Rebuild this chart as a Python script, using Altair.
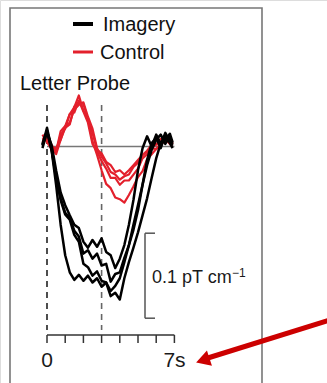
import altair as alt
import pandas as pd

# ---- data (time in s, amplitude in fT/cm) ----
times = [-0.25, 0, 0.25, 0.5, 0.75, 1, 1.25, 1.5, 1.75, 2, 2.25, 2.5, 2.75, 3, 3.25,
         3.5, 3.75, 4, 4.25, 4.5, 4.75, 5, 5.25, 5.5, 5.75, 6, 6.25, 6.5, 6.75, 6.9]

imagery_1 = [2, 19, -4, -45, -92, -128, -148, -157, -151, -158, -152, -160, -155, -165, -160,
             -170, -164, -155, -136, -116, -92, -69, -45, -22, -4, 8, 14, 3, 12, 3]
imagery_2 = [-2, 17, 2, -28, -54, -69, -81, -92, -96, -112, -119, -110, -118, -108, -124,
             -128, -143, -132, -116, -92, -63, -28, -2, 12, 0, 14, 3, 16, 6, 1]
imagery_3 = [1, 22, -2, -34, -61, -78, -84, -99, -106, -126, -122, -132, -126, -140, -138,
             -159, -150, -148, -131, -116, -98, -75, -45, -16, 4, 10, -2, 14, 4, -2]
imagery_4 = [3, 18, -4, -37, -63, -80, -86, -104, -112, -138, -142, -152, -147, -158, -160,
             -176, -172, -180, -155, -136, -119, -101, -81, -61, -37, -14, 4, 8, 15, 5]

control_1 = [14, 5, -2, -9, 8, 22, 26, 47, 52, 50, 32, 16, -4, -8, -18,
             -22, -30, -28, -33, -28, -22, -16, -10, -6, -2, -3, 4, 5, 8, 4]
control_2 = [8, 12, 2, -6, 14, 21, 38, 46, 60, 42, 33, 6, -10, -28, -44,
             -49, -60, -62, -66, -57, -47, -36, -29, -15, -9, -3, 2, 9, 3, 1]
control_3 = [10, 8, -4, -6, 18, 24, 38, 40, 54, 41, 28, 3, -6, -17, -26,
             -37, -37, -45, -40, -40, -33, -26, -14, -9, 0, 2, 9, 10, 4, 2]
control_4 = [5, 14, -1, -2, 8, 24, 28, 44, 49, 52, 35, 21, -2, -12, -20,
             -30, -33, -39, -35, -33, -24, -19, -10, -5, 2, 3, 5, 7, 10, 3]

legend_labels = ["Imagery", "Control"]
legend_colors = ["#000000", "#e3202c"]
probe_title = "Letter Probe"
event_times = [0, 3]
tick_times = [0, 1, 2, 3, 4, 5, 6, 7]
tick_labels = ["0", "7s"]
scalebar_top = -102
scalebar_len = 100
scalebar_label = "0.1 pT cm"
scalebar_exp = "\u22121"

FONT = "Liberation Sans"

rows = []
for name, group, vals in [
    ("c1", "Control", control_1), ("c2", "Control", control_2),
    ("c3", "Control", control_3), ("c4", "Control", control_4),
    ("i1", "Imagery", imagery_1), ("i2", "Imagery", imagery_2),
    ("i3", "Imagery", imagery_3), ("i4", "Imagery", imagery_4),
]:
    for t, v in zip(times, vals):
        rows.append({"t": t, "v": v, "series": name, "group": group})
df = pd.DataFrame(rows)

xs = alt.Scale(domain=[-47 / 18.2, (327 - 47) / 18.2], nice=False, zero=False)
ys = alt.Scale(domain=[(146.5 - 383) / 0.85, 146.5 / 0.85], nice=False, zero=False)
X = lambda f: alt.X(f, type="quantitative", scale=xs, axis=None)
Y = lambda f: alt.Y(f, type="quantitative", scale=ys, axis=None)

one = pd.DataFrame({"a": [0]})

box = alt.Chart(one).mark_rect(fill=None, stroke="#777777", strokeWidth=1.6).encode(
    x=alt.value(10), x2=alt.value(262), y=alt.value(8), y2=alt.value(400))

baseline = alt.Chart(pd.DataFrame({"t0": [0], "t1": [7], "v": [0]})).mark_rule(
    color="#777777", strokeWidth=1.5).encode(x=X("t0"), x2="t1", y=Y("v"))

ev = pd.DataFrame({"t": event_times, "c": ["#222222", "#666666"]})
dashed = alt.Chart(ev).mark_rule(strokeDash=[6, 5], strokeWidth=1.6).encode(
    x=X("t"), y=alt.value(105), y2=alt.value(330),
    color=alt.Color("c:N", scale=None))

color_scale = alt.Scale(domain=legend_labels, range=legend_colors)

red_lines = alt.Chart(df[df.group == "Control"]).mark_line(
    strokeWidth=2.2, strokeJoin="round").encode(
    x=X("t"), y=Y("v"), detail="series:N",
    color=alt.Color("group:N", scale=color_scale, legend=None))
black_lines = alt.Chart(df[df.group == "Imagery"]).mark_line(
    strokeWidth=2.5, strokeJoin="round").encode(
    x=X("t"), y=Y("v"), detail="series:N",
    color=alt.Color("group:N", scale=color_scale, legend=None))

# legend
leg = pd.DataFrame({"label": legend_labels, "col": legend_colors,
                    "ly": [24, 52], "ty": [31, 59], "tx": [103, 100], "w": [4, 3]})
leg_lines = alt.Chart(leg).mark_rule().encode(
    x=alt.value(73), x2=alt.value(93), y=alt.Y("ly:Q", scale=None),
    color=alt.Color("col:N", scale=None),
    strokeWidth=alt.StrokeWidth("w:Q", scale=None))
leg_text = alt.Chart(leg).mark_text(align="left", baseline="alphabetic", font=FONT,
                                     fontSize=20, color="#111111").encode(
    x=alt.X("tx:Q", scale=None), y=alt.Y("ty:Q", scale=None), text="label:N")

title = alt.Chart(pd.DataFrame({"s": [probe_title]})).mark_text(
    align="left", baseline="alphabetic", font=FONT, fontSize=20, color="#111111").encode(
    x=alt.value(20), y=alt.value(90), text="s:N")

# time axis
axis_line = alt.Chart(pd.DataFrame({"t0": [tick_times[0]], "t1": [tick_times[-1]]})).mark_rule(
    color="#333333", strokeWidth=1.5).encode(x=X("t0"), x2="t1", y=alt.value(335))
ticks = alt.Chart(pd.DataFrame({"t": tick_times})).mark_rule(
    color="#333333", strokeWidth=1.5).encode(x=X("t"), y=alt.value(335), y2=alt.value(343))
lab0 = alt.Chart(pd.DataFrame({"t": [tick_times[0]], "s": [tick_labels[0]]})).mark_text(
    align="center", baseline="alphabetic", font=FONT, fontSize=21, color="#1a1a1a").encode(
    x=X("t"), y=alt.value(367), text="s:N")
lab7 = alt.Chart(pd.DataFrame({"t": [tick_times[-1]], "s": [tick_labels[1]]})).mark_text(
    align="left", baseline="alphabetic", font=FONT, fontSize=21, dx=-11, color="#1a1a1a").encode(
    x=X("t"), y=alt.value(367), text="s:N")

# scale bar
sb = pd.DataFrame({"v0": [scalebar_top], "v1": [scalebar_top - scalebar_len]})
sb_v = alt.Chart(sb).mark_rule(color="#555555", strokeWidth=1.5).encode(
    x=alt.value(145), y=Y("v0"), y2="v1")
sb_h = alt.Chart(pd.DataFrame({"v": [scalebar_top, scalebar_top - scalebar_len]})).mark_rule(
    color="#555555", strokeWidth=1.5).encode(x=alt.value(145), x2=alt.value(155), y=Y("v"))
sb_text = alt.Chart(pd.DataFrame({"s": [scalebar_label]})).mark_text(
    align="left", baseline="alphabetic", font=FONT, fontSize=18,
    color="#1a1a1a").encode(x=alt.value(152), y=alt.value(283), text="s:N")
sb_exp = alt.Chart(pd.DataFrame({"s": [scalebar_exp]})).mark_text(
    align="left", baseline="alphabetic", font=FONT, fontSize=12, color="#1a1a1a").encode(
    x=alt.value(232), y=alt.value(277), text="s:N")

# arrow annotation
arrow = alt.Chart(one).mark_rule(color="#cc0000", strokeWidth=5).encode(
    x=alt.value(330), x2=alt.value(203), y=alt.value(320), y2=alt.value(359.5))
head = alt.Chart(one).mark_point(shape="triangle", filled=True, color="#cc0000",
                                 opacity=1, size=260, angle=252).encode(
    x=alt.value(205), y=alt.value(359.5))

chart = alt.layer(
    box, baseline, dashed, red_lines, black_lines, leg_lines, leg_text, title,
    axis_line, ticks, lab0, lab7, sb_v, sb_h, sb_text, sb_exp, arrow, head
).properties(
    width=327, height=383, padding=0, autosize=alt.AutoSizeParams(type="none")
).configure_view(stroke=None).configure(background="white")

chart.save("out.html", embed_options={"renderer": "svg", "actions": False})
